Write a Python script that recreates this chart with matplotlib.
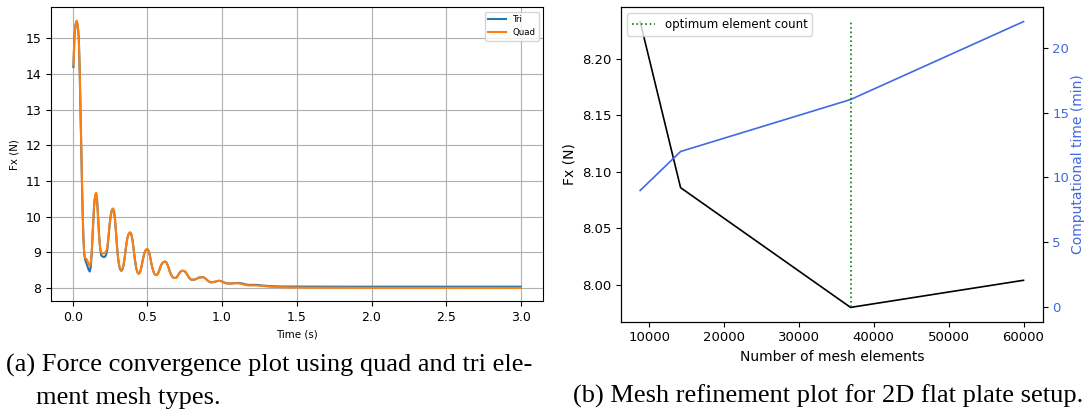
import numpy as np
import matplotlib.pyplot as plt

# force history for the two mesh types
time_s = [
    0.005, 0.012, 0.020, 0.027, 0.034, 0.041, 0.047, 0.053, 0.059, 0.065,
    0.071, 0.077, 0.083, 0.090, 0.098, 0.106, 0.114, 0.121, 0.128, 0.136,
    0.144, 0.151, 0.157, 0.163, 0.170, 0.177, 0.184, 0.191, 0.199, 0.207,
    0.215, 0.223, 0.231, 0.239, 0.247, 0.255, 0.263, 0.270, 0.277, 0.284,
    0.291, 0.298, 0.305, 0.312, 0.319, 0.326, 0.333, 0.341, 0.349, 0.357,
    0.365, 0.373, 0.380, 0.386, 0.393, 0.401, 0.409, 0.417, 0.425, 0.433,
    0.442, 0.451, 0.460, 0.469, 0.478, 0.487, 0.495, 0.502, 0.510, 0.518,
    0.527, 0.536, 0.545, 0.553, 0.562, 0.571, 0.580, 0.590, 0.600, 0.610,
    0.620, 0.630, 0.640, 0.650, 0.660, 0.670, 0.680, 0.690, 0.700, 0.710,
    0.720, 0.730, 0.740, 0.750, 0.760, 0.770, 0.780, 0.790, 0.800, 0.810,
    0.820, 0.830, 0.845, 0.860, 0.875, 0.890, 0.905, 0.920, 0.935, 0.950,
    0.965, 0.980, 0.995, 1.010, 1.025, 1.045, 1.065, 1.085, 1.110, 1.135,
    1.160, 1.185, 1.210, 1.235, 1.260, 1.290, 1.320, 1.360, 1.400, 1.450,
    1.500, 1.600, 1.800, 2.000, 2.500, 3.000]

fx_tri = [
    14.20, 15.05, 15.40, 15.48, 15.36, 15.00, 14.10, 12.90, 11.60, 10.40,
    9.50, 8.96, 8.80, 8.72, 8.62, 8.52, 8.46, 8.58, 9.00, 9.72,
    10.33, 10.60, 10.65, 10.48, 10.00, 9.45, 9.10, 8.92, 8.88, 8.87,
    8.87, 8.92, 9.06, 9.38, 9.76, 10.04, 10.19, 10.22, 10.14, 9.90,
    9.50, 9.10, 8.80, 8.60, 8.51, 8.48, 8.52, 8.65, 8.88, 9.15,
    9.38, 9.50, 9.54, 9.55, 9.50, 9.32, 9.05, 8.78, 8.56, 8.44,
    8.40, 8.44, 8.58, 8.78, 8.95, 9.05, 9.08, 9.08, 9.03, 8.88,
    8.68, 8.52, 8.41, 8.37, 8.36, 8.40, 8.50, 8.62, 8.70, 8.73,
    8.74, 8.70, 8.59, 8.46, 8.36, 8.30, 8.28, 8.28, 8.32, 8.39,
    8.45, 8.48, 8.48, 8.47, 8.42, 8.35, 8.28, 8.24, 8.23, 8.23,
    8.24, 8.26, 8.29, 8.30, 8.30, 8.26, 8.20, 8.16, 8.16, 8.17,
    8.19, 8.20, 8.19, 8.16, 8.135, 8.125, 8.125, 8.135, 8.14, 8.125,
    8.095, 8.085, 8.085, 8.085, 8.07, 8.06, 8.05, 8.045, 8.04, 8.04,
    8.038, 8.036, 8.035, 8.035, 8.035, 8.035]

fx_quad = [
    14.25, 15.05, 15.40, 15.50, 15.38, 15.00, 14.10, 12.90, 11.60, 10.40,
    9.50, 8.98, 8.84, 8.82, 8.78, 8.68, 8.62, 8.70, 9.05, 9.75,
    10.35, 10.62, 10.67, 10.50, 10.00, 9.45, 9.12, 9.00, 8.97, 8.97,
    8.98, 9.02, 9.12, 9.40, 9.78, 10.05, 10.20, 10.23, 10.15, 9.90,
    9.50, 9.10, 8.80, 8.62, 8.53, 8.50, 8.53, 8.65, 8.88, 9.15,
    9.38, 9.50, 9.55, 9.56, 9.50, 9.32, 9.05, 8.78, 8.57, 8.45,
    8.40, 8.44, 8.58, 8.78, 8.95, 9.05, 9.09, 9.09, 9.03, 8.88,
    8.68, 8.52, 8.41, 8.37, 8.36, 8.40, 8.50, 8.62, 8.70, 8.73,
    8.74, 8.70, 8.59, 8.46, 8.36, 8.30, 8.28, 8.28, 8.32, 8.39,
    8.45, 8.48, 8.48, 8.47, 8.42, 8.35, 8.28, 8.24, 8.23, 8.23,
    8.24, 8.26, 8.29, 8.30, 8.30, 8.26, 8.20, 8.16, 8.16, 8.17,
    8.19, 8.20, 8.19, 8.16, 8.13, 8.12, 8.12, 8.13, 8.13, 8.11,
    8.08, 8.07, 8.07, 8.07, 8.06, 8.045, 8.035, 8.025, 8.02, 8.015,
    8.012, 8.008, 8.005, 8.003, 8.001, 8.000]

# mesh refinement study
n_elements = [8800, 14200, 36900, 60000]
fx_mesh = [8.233, 8.086, 7.980, 8.004]
comp_time = [9, 12, 16, 22]
optimum = 36900

blue = 'royalblue'

fig = plt.figure(figsize=(10.86, 4.18), dpi=100)

# (a) force convergence
ax = fig.add_axes([0.0470, 0.2792, 0.4533, 0.7033])
ax.plot(time_s, fx_tri, label='Tri')
ax.plot(time_s, fx_quad, label='Quad')
ax.grid(True)
ax.tick_params(labelsize=9)
ax.set_xlabel('Time (s)', fontsize=7.4)
ax.set_ylabel('Fx (N)', fontsize=7.4)
ax.legend(loc='upper right', fontsize=6.2)

# (b) mesh refinement
ax1 = fig.add_axes([0.5718, 0.2304, 0.3883, 0.7521])
ax1.plot(n_elements, fx_mesh, color='k', lw=1.2)
ax1.set_xlabel('Number of mesh elements', fontsize=10)
ax1.set_ylabel('Fx (N)', fontsize=10)
ax1.tick_params(labelsize=9.5)

ax2 = ax1.twinx()
ax2.plot(n_elements, comp_time, color=blue, lw=1.2)
ax2.vlines(optimum, 0, max(comp_time), colors='green', linestyles='dotted',
           lw=1.2, label='optimum element count')
ax2.set_ylabel('Computational time (min)', color=blue, fontsize=10, labelpad=1.5)
ax2.tick_params(axis='y', labelcolor=blue, labelsize=9.5)
ax2.legend(loc='upper left', fontsize=8.5)

# sub-figure captions
cap = dict(family='Liberation Serif', fontsize=19, va='baseline')
fig.text(6 / 1086, 1 - 371.5 / 418, '(a) Force convergence plot using quad and tri ele-', **cap)
fig.text(36 / 1086, 1 - 404 / 418, 'ment mesh types.', **cap)
fig.text(573 / 1086, 1 - 403 / 418, '(b) Mesh refinement plot for 2D flat plate setup.', **cap)

fig.savefig('out.png', dpi=100)
